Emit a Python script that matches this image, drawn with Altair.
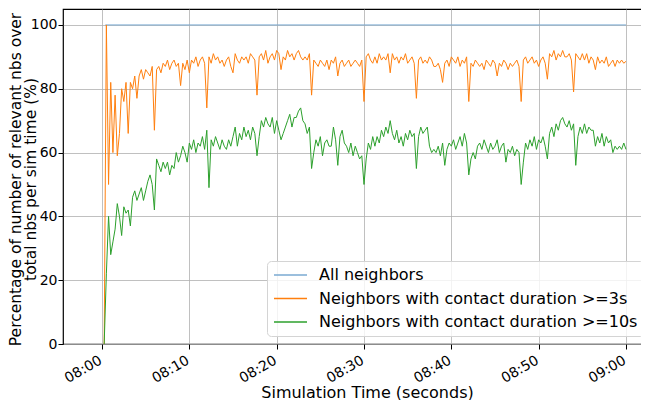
import altair as alt
import pandas as pd

# ---- data (15-second samples, minutes after 08:00) ----
tick_minutes = [0, 10, 20, 30, 40, 50, 60]
tick_labels = ["08:00", "08:10", "08:20", "08:30", "08:40", "08:50", "09:00"]
y_ticks = [0, 20, 40, 60, 80, 100]

series_names = [
    "All neighbors",
    "Neighbors with contact duration >=3s",
    "Neighbors with contact duration >=10s",
]
series_colors = ["#7aaad2", "#ff7f0e", "#2ca02c"]

blue_times = [0.38, 60.0]
blue_values = [100, 100]

sample_times = [0.25 * (i + 1) for i in range(240)]

orange_values = [
    0, 100, 50, 82,   60, 78, 59, 66,   80, 76, 82, 66,   82, 80, 84, 77,
    84, 86, 83, 86,   85, 84, 87, 67,   86, 87, 85, 88,   87, 89, 86, 88,
    89, 87, 88, 81,   88, 86, 89, 85,   89, 88, 90, 87,   89, 90, 88, 74,
    90, 88, 91, 89,   90, 88, 89, 87,   89, 90, 87, 85,   91, 89, 88, 90,
    89, 90, 88, 91,   90, 89, 78, 90,   91, 89, 92, 88,   90, 91, 89, 92,
    91, 86, 90, 89,   92, 90, 91, 89,   91, 92, 90, 89,   90, 89, 91, 78,
    89, 88, 87, 89,   88, 87, 89, 86,   89, 88, 90, 84,   88, 89, 87, 88,
    89, 87, 88, 89,   88, 87, 89, 76,   90, 91, 89, 88,   90, 88, 91, 89,
    90, 89, 91, 85,   91, 89, 90, 88,   90, 89, 91, 88,   89, 90, 88, 77,
    89, 90, 88, 89,   88, 90, 89, 87,   87, 88, 86, 82,   88, 89, 87, 90,
    89, 88, 90, 87,   89, 88, 90, 76,   88, 87, 89, 88,   87, 88, 86, 89,
    88, 87, 89, 88,   84, 88, 87, 89,   88, 86, 88, 87,   88, 89, 87, 76,
    89, 90, 88, 89,   90, 88, 89, 87,   89, 90, 88, 83,   91, 90, 92, 89,
    91, 90, 92, 90,   90, 91, 89, 79,   91, 90, 89, 91,   89, 91, 88, 90,
    89, 86, 90, 88,   89, 88, 90, 87,   88, 89, 87, 89,   88, 89, 88, 88.6,
]

green_values = [
    0, 22, 40, 28,    32, 36, 44, 40,   34, 43, 41, 42,   37, 46, 48, 45,
    47, 49, 45, 48,   51, 53, 50, 42,   58, 56, 54, 57,   55, 57, 53, 56,
    55, 60, 57, 59,   62, 60, 57, 63,   61, 64, 60, 63,   62, 65, 61, 67,
    49, 64, 62, 65,   63, 61, 64, 62,   61, 64, 62, 65,   68, 62, 66, 64,
    68, 65, 67, 64,   68, 66, 59, 65,   70, 68, 71, 69,   68, 71, 66, 70,
    67, 64, 66, 68,   70, 72, 68, 71,   71, 73, 74, 70,   69, 66, 68, 55,
    60, 64, 62, 65,   59, 63, 64, 62,   62, 68, 64, 56,   65, 67, 63, 62,
    60, 63, 59, 62,   60, 58, 59, 50,   58, 63, 61, 65,   62, 65, 63, 67,
    65, 68, 66, 70,   66, 64, 67, 63,   65, 62, 66, 64,   67, 65, 66, 55,
    65, 68, 66, 67,   68, 62, 60, 61,   60, 62, 59, 63,   56, 61, 63, 62,
    64, 61, 63, 65,   62, 66, 63, 53,   58, 60, 58, 62,   63, 61, 64, 62,
    60, 63, 61, 62,   64, 60, 62, 63,   57, 61, 60, 62,   59, 61, 60, 50,
    57, 63, 61, 64,   62, 65, 61, 64,   63, 65, 62, 58,   66, 68, 65, 69,
    67, 70, 71, 69,   68, 70, 67, 69,   56, 65, 68, 66,   69, 66, 68, 67,
    67, 62, 65, 63,   66, 62, 65, 63,   64, 60, 62, 61,   62, 61, 63, 61,
]

rows = []
for t, v in zip(blue_times, blue_values):
    rows.append({"t": t, "v": v, "series": series_names[0], "k": 0})
for t, v in zip(sample_times, orange_values):
    rows.append({"t": t, "v": v, "series": series_names[1], "k": 1})
for t, v in zip(sample_times, green_values):
    rows.append({"t": t, "v": v, "series": series_names[2], "k": 2})
df = pd.DataFrame(rows)

FONT = "DejaVu Sans"
TICK_FS = 14
TEXT_FS = 16
YTITLE_FS = 15.5

label_expr = "[" + ",".join("'%s'" % s for s in tick_labels) + "][round(datum.value / 10)]"

chart = (
    alt.Chart(df)
    .mark_line(strokeWidth=1, clip=True)
    .encode(
        x=alt.X(
            "t:Q",
            scale=alt.Scale(domain=[-4.466, 65.27], nice=False, zero=False),
            axis=alt.Axis(
                values=tick_minutes,
                labelExpr=label_expr,
                labelAngle=330,
                labelAlign="right",
                labelBaseline="top",
                labelFlush=False,
                labelOverlap=False,
                labelOffset=-5,
                tickSize=5,
                labelPadding=4,
                title="Simulation Time (seconds)",
                titleX=304,
                titleY=48,
                titleAlign="center",
                titleBaseline="middle",
            ),
        ),
        y=alt.Y(
            "v:Q",
            scale=alt.Scale(domain=[0, 105], nice=False, zero=False),
            axis=alt.Axis(
                values=y_ticks,
                tickSize=5,
                labelPadding=1,
                titleAngle=270,
                titleAlign="center",
                titleBaseline="top",
                titleX=-55,
                titleY=170,
                titleFontSize=YTITLE_FS,
                titleLineHeight=15.5,
                title=[
                    "Percentage of number of relevant nbs over",
                    "total nbs per sim time (%)",
                ],
            ),
        ),
        color=alt.Color(
            "series:N",
            sort=series_names,
            scale=alt.Scale(domain=series_names, range=series_colors),
            legend=alt.Legend(
                title=None,
                orient="none",
                legendX=204,
                legendY=252,
                symbolType="stroke",
                symbolSize=1089,
                symbolStrokeWidth=1.5,
                clipHeight=16,
                rowPadding=7.5,
                labelOffset=11,
                labelFont=FONT,
                labelFontSize=TEXT_FS,
                labelColor="black",
                labelLimit=500,
                padding=6,
                cornerRadius=4,
                fillColor="rgba(255,255,255,0.8)",
                strokeColor="#d4d4d4",
            ),
        ),
        order=alt.Order("k:Q"),
        detail="k:Q",
    )
    .properties(
        width=609,
        height=335,
        autosize=alt.AutoSizeParams(type="none"),
        padding={"left": 55, "top": 1, "right": -31, "bottom": 56},
    )
    .configure_view(stroke="black", strokeWidth=1.2)
    .configure_axis(
        labelFont=FONT,
        labelFontSize=TICK_FS,
        labelColor="black",
        titleFont=FONT,
        titleFontSize=TEXT_FS,
        titleFontWeight="normal",
        titleColor="black",
        gridColor="#b0b0b0",
        gridWidth=0.8,
        tickColor="black",
        tickWidth=1,
        domain=False,
    )
)

chart.save("out.html", embed_options={"renderer": "svg", "actions": False})
